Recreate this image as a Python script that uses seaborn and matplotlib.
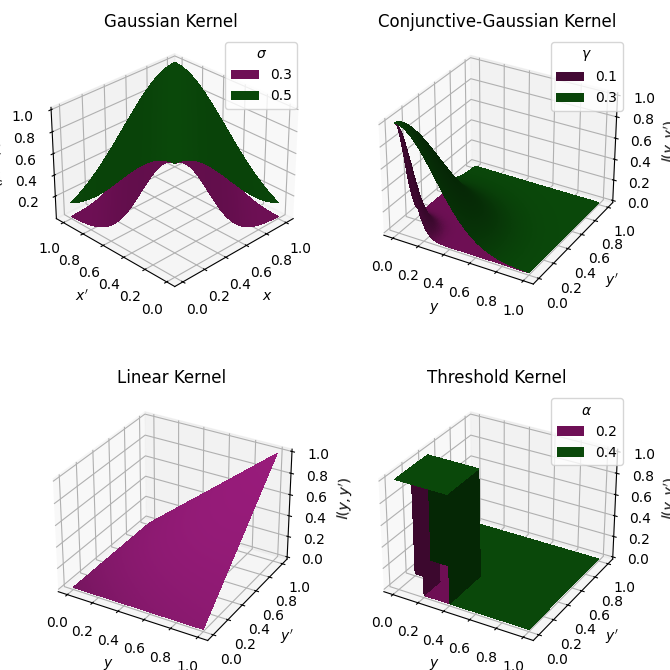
import numpy as np
import matplotlib
matplotlib.use('Agg')
import matplotlib.pyplot as plt
import matplotlib.colors as mcolors
import seaborn as sns

plt.rcParams['axes3d.automargin'] = True

# kernel parameters shown in the legends
sigmas = [0.3, 0.5]
gammas = [0.1, 0.3]
alphas = [0.2, 0.4]

# surface colours
gauss_colors = sns.color_palette(['#8f146e', '#0d5e0d'])
conj_colors = sns.color_palette(['#8f146e', '#0d5e0d'])
linear_color = '#9a1c7c'
thresh_colors = sns.color_palette(['#8f146e', '#0d5e0d'])

grid = np.linspace(0, 1, 200)
A, B = np.meshgrid(grid, grid)
surf_kw = dict(rcount=200, ccount=200, linewidth=0, antialiased=False)


def shade_legend(leg, colors, factors):
    # legend swatches show the lit surface colour, not the raw one
    for p, c, f in zip(leg.get_patches(), colors, factors):
        rgb = np.array(mcolors.to_rgb(c)) * f
        p.set_facecolor(rgb)
        p.set_edgecolor(rgb)


fig = plt.figure(figsize=(6.7, 6.7), dpi=100)

w = 0.397
ax1 = fig.add_axes([0.057, 0.551, w, w], projection='3d')
ax2 = fig.add_axes([0.543, 0.551, w, w], projection='3d')
ax3 = fig.add_axes([0.057, 0.019, w, w], projection='3d')
ax4 = fig.add_axes([0.543, 0.019, w, w], projection='3d')

# Gaussian kernel
for s, c in zip(sigmas, gauss_colors):
    Z = np.exp(-(A - B) ** 2 / (2 * s ** 2))
    ax1.plot_surface(A, B, Z, color=c, label=str(s), **surf_kw)
ax1.view_init(elev=30, azim=-135)
ax1.set_xlabel('$x$')
ax1.set_ylabel("$x'$")
ax1.set_zlabel("$k(x, x')$")
ax1.set_title('Gaussian Kernel')
leg = ax1.legend(title=r'$\sigma$', loc='upper right')
shade_legend(leg, gauss_colors, [0.77, 0.77])

# Conjunctive-Gaussian kernel
for g, c in zip(gammas, conj_colors):
    Z = np.exp(-(A ** 2 + B ** 2) / (2 * g ** 2))
    ax2.plot_surface(A, B, Z, color=c, label=str(g), **surf_kw)
ax2.set_xlabel('$y$')
ax2.set_ylabel("$y'$")
ax2.set_zlabel("$l(y, y')$")
ax2.set_title('Conjunctive-Gaussian Kernel')
leg = ax2.legend(title=r'$\gamma$', loc='upper right')
shade_legend(leg, conj_colors, [0.47, 0.72])

# Linear kernel
ax3.plot_surface(A, B, A * B, color=linear_color, **surf_kw)
ax3.set_xlabel('$y$')
ax3.set_ylabel("$y'$")
ax3.set_zlabel("$l(y, y')$")
ax3.set_title('Linear Kernel')

# Threshold kernel
for a, c in zip(alphas, thresh_colors):
    Z = ((A < a) & (B < a)).astype(float)
    ax4.plot_surface(A, B, Z, color=c, label=str(a), **surf_kw)
ax4.set_xlabel('$y$')
ax4.set_ylabel("$y'$")
ax4.set_zlabel("$l(y, y')$")
ax4.set_title('Threshold Kernel')
leg = ax4.legend(title=r'$\alpha$', loc='upper right')
shade_legend(leg, thresh_colors, [0.77, 0.77])

fig.savefig('out.png', dpi=100)
